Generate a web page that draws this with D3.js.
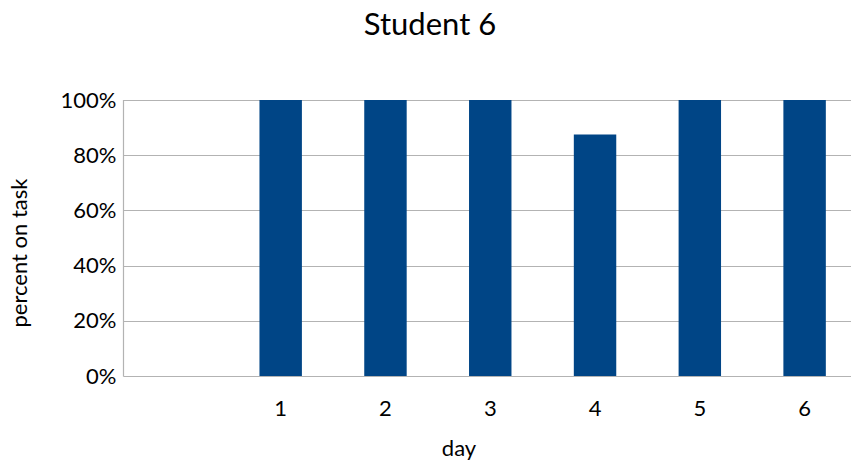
<!DOCTYPE html>
<html><head><meta charset="utf-8">
<script src="https://cdn.jsdelivr.net/npm/d3@7"></script>
<style>body{margin:0;background:#fff}svg{display:block}</style>
</head><body>
<svg id="c" width="851" height="464"></svg>
<script>
const categories = ["", "1", "2", "3", "4", "5", "6"];
const values = [null, 1, 1, 1, 0.875, 1, 1];
const yTicks = [0, 0.2, 0.4, 0.6, 0.8, 1];
const title = "Student 6";
const xTitle = "day";
const yTitle = "percent on task";

(function () {
const svg = d3.select("#c");
const W = 851, H = 464;
const pLeft = 123.5, pRight = 857, pTop = 100, pBottom = 376;
const font = "Lato, 'Carlito', sans-serif";

const x = d3.scaleBand().domain(categories).range([pLeft, pRight])
  .paddingInner(0.595).paddingOuter(0.2975);
const y = d3.scaleLinear().domain([0, 1]).range([pBottom, pTop]);

// gridlines
svg.append("g").selectAll("line").data(yTicks).join("line")
  .attr("x1", pLeft).attr("x2", W)
  .attr("y1", d => Math.round(y(d)) + 0.5).attr("y2", d => Math.round(y(d)) + 0.5)
  .attr("stroke", "#b3b3b3").attr("stroke-width", 1.2);

// bars
svg.append("g").selectAll("rect").data(categories.map((c, i) => ({c, v: values[i]})).filter(d => d.v != null))
  .join("rect")
  .attr("x", d => x(d.c)).attr("width", x.bandwidth())
  .attr("y", d => y(d.v)).attr("height", d => y(0) - y(d.v))
  .attr("fill", "#004586");

// y axis line
svg.append("line").attr("x1", pLeft).attr("x2", pLeft).attr("y1", pTop).attr("y2", pBottom + 0.5)
  .attr("stroke", "#b3b3b3").attr("stroke-width", 1.2);

// y axis labels
const yAxis = d3.axisLeft(y).tickValues(yTicks).tickFormat(d3.format(".0%")).tickSize(0).tickPadding(7);
const ya = svg.append("g").attr("transform", `translate(${pLeft},0)`).call(yAxis);
ya.select(".domain").remove();
ya.selectAll("text").attr("font-family", font).attr("font-size", 22).attr("fill", "#000");

// x axis labels
const xAxis = d3.axisBottom(x).tickSize(0).tickPadding(24);
const xa = svg.append("g").attr("transform", `translate(0,${pBottom})`).call(xAxis);
xa.select(".domain").remove();
xa.selectAll("text").attr("font-family", font).attr("font-size", 22).attr("fill", "#000");

// titles
svg.append("text").attr("x", 430).attr("y", 35).attr("text-anchor", "middle")
  .attr("font-family", font).attr("font-size", 31).attr("fill", "#000").text(title);
svg.append("text").attr("x", 459).attr("y", 456).attr("text-anchor", "middle")
  .attr("font-family", font).attr("font-size", 22).attr("fill", "#000").text(xTitle);
svg.append("text").attr("transform", "translate(27,253) rotate(-90)").attr("text-anchor", "middle")
  .attr("font-family", font).attr("font-size", 22).attr("fill", "#000").text(yTitle);
})();
</script>
</body></html>
